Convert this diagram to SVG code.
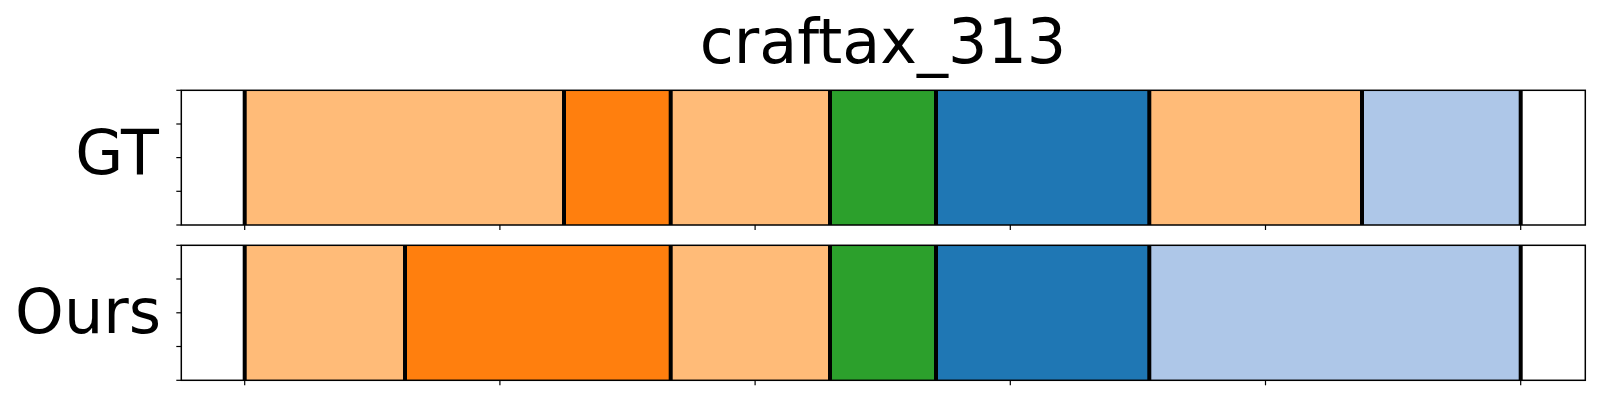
<svg xmlns="http://www.w3.org/2000/svg" width="1600" height="400" viewBox="0 0 1600 400">
<style>
  text { font-family: "DejaVu Sans", "Liberation Sans", sans-serif; font-size: 62px; fill: #000; }
  .lo { fill: #ffbb78; }
  .or { fill: #ff7f0e; }
  .gr { fill: #2ca02c; }
  .bl { fill: #1f77b4; }
  .lb { fill: #aec7e8; }
  .sep { stroke: #000; stroke-width: 4; }
  .spine { fill: none; stroke: #000; stroke-width: 1.5; }
  .tick { stroke: #000; stroke-width: 1.2; }
</style>
<rect x="0" y="0" width="1600" height="400" fill="#fff"/>
<text x="883" y="63" text-anchor="middle">craftax_313</text>

<g id="gt">
  <text x="159" y="174" text-anchor="end">GT</text>
  <rect class="lo" x="244.7" y="90.3" width="319.3" height="134.7"/>
  <rect class="or" x="564" y="90.3" width="106.7" height="134.7"/>
  <rect class="lo" x="670.7" y="90.3" width="159.3" height="134.7"/>
  <rect class="gr" x="830" y="90.3" width="106" height="134.7"/>
  <rect class="bl" x="936" y="90.3" width="213.3" height="134.7"/>
  <rect class="lo" x="1149.3" y="90.3" width="212.7" height="134.7"/>
  <rect class="lb" x="1362" y="90.3" width="158.7" height="134.7"/>
  <g class="sep">
    <line x1="244.7" y1="90.3" x2="244.7" y2="225"/>
    <line x1="564" y1="90.3" x2="564" y2="225"/>
    <line x1="670.7" y1="90.3" x2="670.7" y2="225"/>
    <line x1="830" y1="90.3" x2="830" y2="225"/>
    <line x1="936" y1="90.3" x2="936" y2="225"/>
    <line x1="1149.3" y1="90.3" x2="1149.3" y2="225"/>
    <line x1="1362" y1="90.3" x2="1362" y2="225"/>
    <line x1="1520.7" y1="90.3" x2="1520.7" y2="225"/>
  </g>
  <rect class="spine" x="181.3" y="90.3" width="1404" height="134.7"/>
  <g class="tick">
    <line x1="176.3" y1="90.3" x2="181.3" y2="90.3"/>
    <line x1="176.3" y1="124" x2="181.3" y2="124"/>
    <line x1="176.3" y1="157.6" x2="181.3" y2="157.6"/>
    <line x1="176.3" y1="191.3" x2="181.3" y2="191.3"/>
    <line x1="176.3" y1="225" x2="181.3" y2="225"/>
    <line x1="244.7" y1="225" x2="244.7" y2="230"/>
    <line x1="499.9" y1="225" x2="499.9" y2="230"/>
    <line x1="755.1" y1="225" x2="755.1" y2="230"/>
    <line x1="1010.3" y1="225" x2="1010.3" y2="230"/>
    <line x1="1265.5" y1="225" x2="1265.5" y2="230"/>
    <line x1="1520.7" y1="225" x2="1520.7" y2="230"/>
  </g>
</g>

<g id="ours">
  <text x="161" y="333" text-anchor="end">Ours</text>
  <rect class="lo" x="244.7" y="245.3" width="160.3" height="135"/>
  <rect class="or" x="405" y="245.3" width="265.7" height="135"/>
  <rect class="lo" x="670.7" y="245.3" width="159.3" height="135"/>
  <rect class="gr" x="830" y="245.3" width="106" height="135"/>
  <rect class="bl" x="936" y="245.3" width="213.3" height="135"/>
  <rect class="lb" x="1149.3" y="245.3" width="371.4" height="135"/>
  <g class="sep">
    <line x1="244.7" y1="245.3" x2="244.7" y2="380.3"/>
    <line x1="405" y1="245.3" x2="405" y2="380.3"/>
    <line x1="670.7" y1="245.3" x2="670.7" y2="380.3"/>
    <line x1="830" y1="245.3" x2="830" y2="380.3"/>
    <line x1="936" y1="245.3" x2="936" y2="380.3"/>
    <line x1="1149.3" y1="245.3" x2="1149.3" y2="380.3"/>
    <line x1="1520.7" y1="245.3" x2="1520.7" y2="380.3"/>
  </g>
  <rect class="spine" x="181.3" y="245.3" width="1404" height="135"/>
  <g class="tick">
    <line x1="176.3" y1="245.3" x2="181.3" y2="245.3"/>
    <line x1="176.3" y1="279" x2="181.3" y2="279"/>
    <line x1="176.3" y1="312.8" x2="181.3" y2="312.8"/>
    <line x1="176.3" y1="346.5" x2="181.3" y2="346.5"/>
    <line x1="176.3" y1="380.3" x2="181.3" y2="380.3"/>
    <line x1="244.7" y1="380.3" x2="244.7" y2="385.3"/>
    <line x1="499.9" y1="380.3" x2="499.9" y2="385.3"/>
    <line x1="755.1" y1="380.3" x2="755.1" y2="385.3"/>
    <line x1="1010.3" y1="380.3" x2="1010.3" y2="385.3"/>
    <line x1="1265.5" y1="380.3" x2="1265.5" y2="385.3"/>
    <line x1="1520.7" y1="380.3" x2="1520.7" y2="385.3"/>
  </g>
</g>
</svg>
